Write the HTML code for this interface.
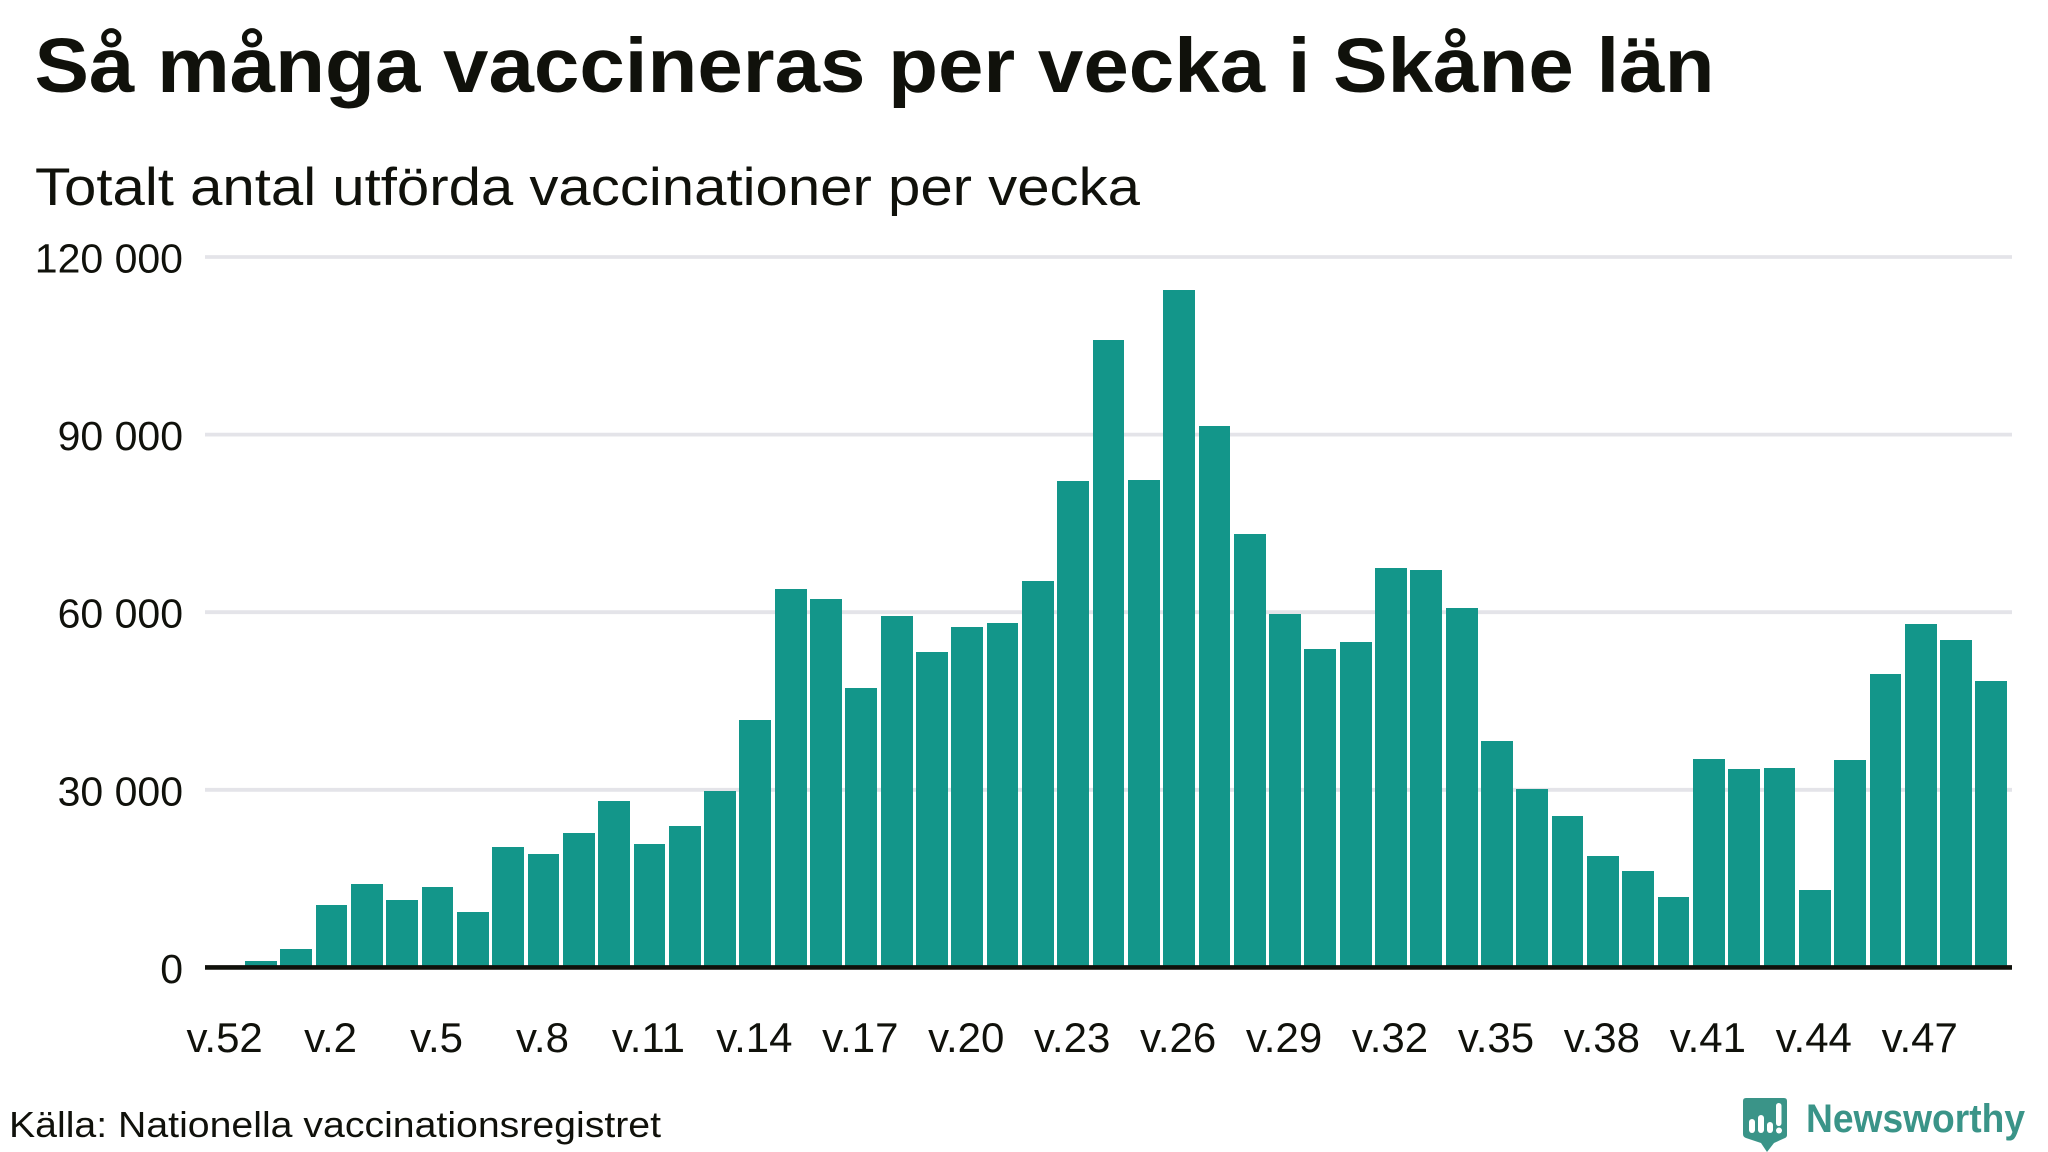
<!DOCTYPE html>
<html lang="sv">
<head>
<meta charset="utf-8">
<title>Så många vaccineras per vecka i Skåne län</title>
<style>
html,body{margin:0;padding:0;background:#fff;width:2048px;height:1152px;overflow:hidden}
svg{display:block}
text{font-family:"Liberation Sans",Arial,sans-serif;fill:#10110b}
</style>
</head>
<body>
<svg id="chart" xmlns="http://www.w3.org/2000/svg" width="2048" height="1152" viewBox="0 0 2048 1152">
  <rect width="2048" height="1152" fill="#fff"/>
  <text x="34.5" y="92" font-size="77" font-weight="700" textLength="1680" lengthAdjust="spacingAndGlyphs">Så många vaccineras per vecka i Skåne län</text>
  <text x="35" y="205" font-size="53" textLength="1105" lengthAdjust="spacingAndGlyphs">Totalt antal utförda vaccinationer per vecka</text>
  <g id="grid"></g>
  <g id="bars"></g>
  <line x1="205" x2="2012" y1="967.4" y2="967.4" stroke="#10110b" stroke-width="4.6"/>
  <g id="ylabels"></g>
  <g id="xlabels"></g>
  <text x="9" y="1137" font-size="36" textLength="652" lengthAdjust="spacingAndGlyphs">Källa: Nationella vaccinationsregistret</text>
  <g>
    <path d="M1746 1098H1784Q1787 1098 1787 1101V1135Q1787 1137 1785 1138L1774 1143L1767 1152L1761 1143L1746 1138Q1743 1137 1743 1134V1101Q1743 1098 1746 1098Z" fill="#3a9488"/>
    <rect x="1749" y="1119" width="6" height="14" rx="3" fill="#fff"/>
    <rect x="1758" y="1115" width="6" height="18" rx="3" fill="#fff"/>
    <rect x="1767" y="1122" width="6" height="11" rx="3" fill="#fff"/>
    <rect x="1776" y="1103" width="5.5" height="23" rx="2.7" fill="#fff"/>
    <circle cx="1779" cy="1130.5" r="3" fill="#fff"/>
    <text x="1806" y="1132" font-size="40" font-weight="700" textLength="219" lengthAdjust="spacingAndGlyphs" style="fill:#3a9488">Newsworthy</text>
  </g>
</svg>
<script>
const categories = ["v.52","v.53","v.1","v.2","v.3","v.4","v.5","v.6","v.7","v.8","v.9","v.10","v.11","v.12","v.13","v.14","v.15","v.16","v.17","v.18","v.19","v.20","v.21","v.22","v.23","v.24","v.25","v.26","v.27","v.28","v.29","v.30","v.31","v.32","v.33","v.34","v.35","v.36","v.37","v.38","v.39","v.40","v.41","v.42","v.43","v.44","v.45","v.46","v.47","v.48","v.49"];
const vaccinations = [0,1080,3106,10533,14078,11377,13572,9352,20324,19142,22687,28088,20830,23868,29776,41761,63874,62186,47163,59316,53240,57460,58135,65224,82104,105905,82273,114345,91388,73158,59654,53746,54928,67419,67081,60667,38216,30114,25556,18804,16272,11884,35178,33490,33659,13065,35009,49526,57966,55265,48344];
const yTicks = [0,30000,60000,90000,120000];
const yTickLabels = ["0","30 000","60 000","90 000","120 000"];
const xTickLabels = ["v.52","v.2","v.5","v.8","v.11","v.14","v.17","v.20","v.23","v.26","v.29","v.32","v.35","v.38","v.41","v.44","v.47"];

const SVG_NS = "http://www.w3.org/2000/svg";
const plotLeft = 208, bandStep = 35.314, barFraction = 0.9;
const yZero = 967.4, yPerUnit = 177.6 / 30000;
const xBand = i => plotLeft + i * bandStep;
const xCenter = i => xBand(i) + bandStep / 2;
const yScale = v => yZero - v * yPerUnit;

function mk(tag, attrs, parent) {
  const el = document.createElementNS(SVG_NS, tag);
  for (const k in attrs) el.setAttribute(k, attrs[k]);
  parent.appendChild(el);
  return el;
}

const gridGroup = document.getElementById("grid");
const yLabelGroup = document.getElementById("ylabels");
yTicks.forEach((t, i) => {
  if (t !== 0) {
    const line = mk("line", {x1: 205, x2: 2012, y1: yScale(t), y2: yScale(t), stroke: "#e4e4e9", "stroke-width": 3.8}, gridGroup);
    
    
  }
  const label = mk("text", {x: 183, y: yScale(t) + 15.5, "text-anchor": "end", "font-size": 41}, yLabelGroup);
  label.textContent = yTickLabels[i];
  
  
});

const barGroup = document.getElementById("bars");
vaccinations.forEach((v, i) => {
  const inset = bandStep * (1 - barFraction) / 2;
  const left = Math.round(xBand(i) + inset);
  const right = Math.round(xBand(i) + bandStep - inset);
  const top = Math.round(yScale(v));
  const bar = mk("rect", {x: left, y: top, width: right - left, height: Math.max(0, yZero - top), fill: "#13968a"}, barGroup);
  
  
});

const xLabelGroup = document.getElementById("xlabels");
xTickLabels.forEach(lbl => {
  const idx = categories.indexOf(lbl);
  const label = mk("text", {x: xCenter(idx) - 1, y: 1052, "text-anchor": "middle", "font-size": 42}, xLabelGroup);
  label.textContent = lbl;
  
  
});
</script>
</body>
</html>
